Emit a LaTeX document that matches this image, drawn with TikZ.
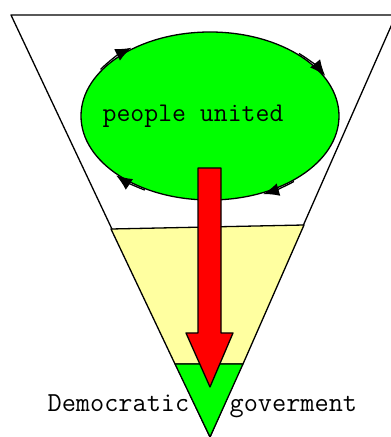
\documentclass[tikz,border=0pt]{standalone}
\usepackage{xcolor}
\usepackage{tikz}
\usetikzlibrary{arrows.meta,positioning,calc,shapes.geometric}
\definecolor{pgreen}{RGB}{0,255,0}
\definecolor{pyellow}{RGB}{255,255,160}
\definecolor{pred}{RGB}{255,0,0}

\begin{document}
\begin{tikzpicture}[x=1pt,y=1pt, line width=1.3pt, line join=round,
  ell/.style={ellipse,draw,fill=pgreen,minimum width=258,minimum height=168,inner sep=0pt},
  lbl/.style={inner sep=0pt,font=\ttfamily\fontsize{27}{30}\selectfont},
  cyc/.style={-{Latex[length=16pt,width=13pt]}},
  >=Stealth]
\useasboundingbox (0,0) rectangle (391,437);
\draw[fill=white] (11,422) -- (396,422) -- (210,0) -- cycle;
\draw[fill=pyellow] (111,208) -- (304,212) -- (243,73) -- (175,73) -- cycle;
\draw[fill=pgreen] (175,73) -- (243,73) -- (210,0) -- cycle;
\node[ell] (ppl) at (210,321) {};
\node[lbl, anchor=base west] (ppltxt) at (102,315) {people united};
\draw[cyc] ([shift={(147:130.5 and 85.5)}]ppl.center) arc[start angle=147,end angle=127,x radius=130.5,y radius=85.5];
\draw[cyc] ([shift={(47:130.5 and 85.5)}]ppl.center) arc[start angle=47,end angle=28,x radius=130.5,y radius=85.5];
\draw[cyc] ([shift={(-50:130.5 and 85.5)}]ppl.center) arc[start angle=-50,end angle=-66,x radius=130.5,y radius=85.5];
\draw[cyc] ([shift={(-120:130.5 and 85.5)}]ppl.center) arc[start angle=-120,end angle=-136,x radius=130.5,y radius=85.5];
\draw[fill=pred] (198,269) -- (221,269) -- (221,104) -- (233,104) -- (210,50) -- (186,104) -- (198,104) -- cycle;
\node[lbl, font=\ttfamily\fontsize{27.5}{30}\selectfont, anchor=base west] (dem) at (47,25) {Democratic};
\node[lbl, font=\ttfamily\fontsize{27.5}{30}\selectfont, anchor=base west] (gov) at (229,25) {goverment};
\end{tikzpicture}
\end{document}
